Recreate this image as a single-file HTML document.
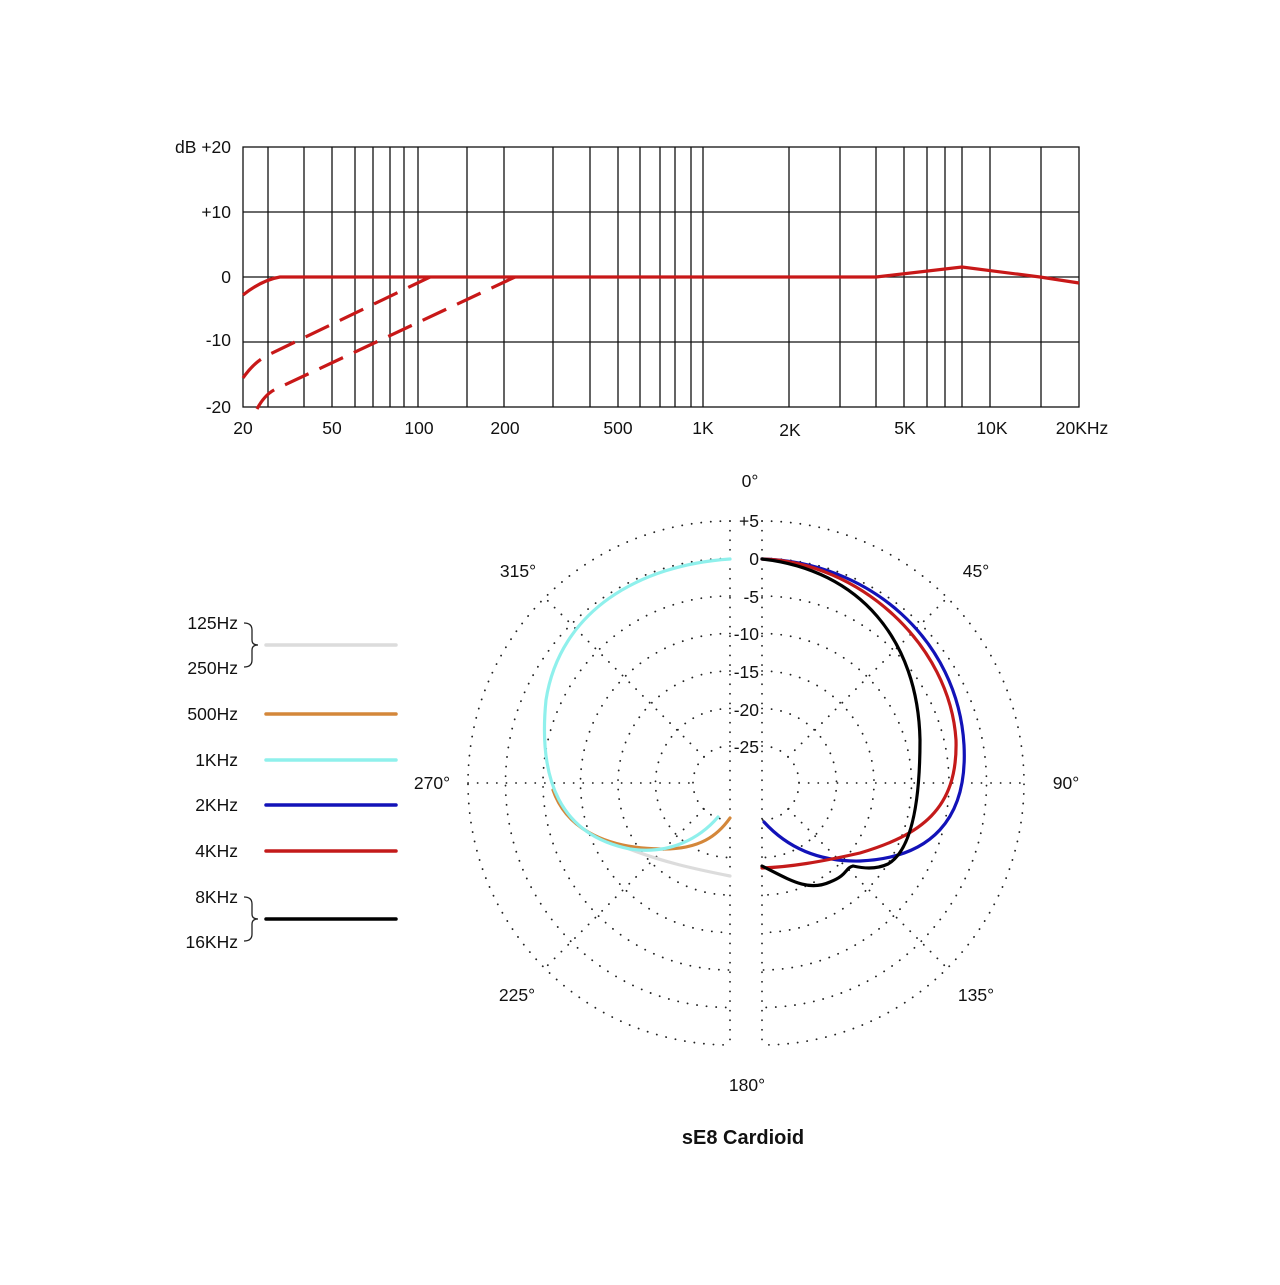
<!DOCTYPE html>
<html><head><meta charset="utf-8"><style>
body{margin:0;background:#fff}
svg text{font-family:"Liberation Sans",sans-serif;fill:#111}
</style></head><body>
<svg width="1280" height="1280" viewBox="0 0 1280 1280" xmlns="http://www.w3.org/2000/svg">
<g stroke="#111" stroke-width="1.3" fill="none">
<rect x="243" y="147" width="836" height="260"/>
<path d="M243 212H1079M243 277H1079M243 342H1079"/>
<path d="M268 147V407M304 147V407M332 147V407M355 147V407M373 147V407M390 147V407M404 147V407M418 147V407M467 147V407M504 147V407M553 147V407M590 147V407M618 147V407M640 147V407M660 147V407M675 147V407M691 147V407M703 147V407M789 147V407M840 147V407M876 147V407M904 147V407M927 147V407M945 147V407M962 147V407M990 147V407M1041 147V407"/>
</g>
<g stroke="#c81818" stroke-width="3.2" fill="none">
<path d="M243 295 Q262 280 280 277 L876 277 L962 267 L1040 277 L1079 283"/>
<path d="M243 378 Q254 362 268 355 L430 277" stroke-dasharray="26 12"/>
<path d="M257 409 Q265 394 276 389 L515 277" stroke-dasharray="26 12"/>
</g>
<g font-size="17.5" text-anchor="end">
<text x="231" y="153">dB  +20</text><text x="231" y="218">+10</text><text x="231" y="283">0</text><text x="231" y="346">-10</text><text x="231" y="413">-20</text>
</g>
<g font-size="17.5" text-anchor="middle">
<text x="243" y="434">20</text><text x="332" y="434">50</text><text x="419" y="434">100</text><text x="505" y="434">200</text><text x="618" y="434">500</text><text x="703" y="434">1K</text><text x="790" y="436">2K</text><text x="905" y="434">5K</text><text x="992" y="434">10K</text><text x="1082" y="434">20KHz</text>
</g>
<!-- polar -->
<g stroke="#222" stroke-width="1.8" fill="none" stroke-dasharray="0.1 9.5" stroke-linecap="round">
<path d="M730 521 A262 262 0 0 0 730 1045 M730 558.5 A224.5 224.5 0 0 0 730 1007.5 M730 596 A187 187 0 0 0 730 970 M730 633.5 A149.5 149.5 0 0 0 730 932.5 M730 671 A112 112 0 0 0 730 895 M730 708.5 A74.5 74.5 0 0 0 730 857.5 M730 746 A37 37 0 0 0 730 820"/>
<path d="M762 521 A262 262 0 0 1 762 1045 M762 558.5 A224.5 224.5 0 0 1 762 1007.5 M762 596 A187 187 0 0 1 762 970 M762 633.5 A149.5 149.5 0 0 1 762 932.5 M762 671 A112 112 0 0 1 762 895 M762 708.5 A74.5 74.5 0 0 1 762 857.5 M762 746 A37 37 0 0 1 762 820"/>
<path d="M730 521V1045M762 521V1045M468 783H693M799 783H1024"/>
<path d="M704 757L545 598M704 809L545 968M788 757L947 598M788 809L947 968"/>
</g>
<g font-size="17.5" text-anchor="middle">
<text x="750" y="487">0°</text><text x="976" y="577">45°</text><text x="1066" y="789">90°</text><text x="976" y="1001">135°</text><text x="747" y="1091">180°</text><text x="517" y="1001">225°</text><text x="432" y="789">270°</text><text x="518" y="577">315°</text>
</g>
<g font-size="17.5" text-anchor="end">
<text x="759" y="527">+5</text><text x="759" y="565">0</text><text x="759" y="603">-5</text><text x="759" y="640">-10</text><text x="759" y="678">-15</text><text x="759" y="716">-20</text><text x="759" y="753">-25</text>
</g>
<g fill="none" stroke-width="3.2" stroke-linecap="round">
<path d="M622 846 C660 862 700 870 730 876" stroke="#dcdcdc"/>
<path d="M553 790 C565 825 600 848 660 849 C700 850 718 835 730 818" stroke="#d4873a"/>
<path d="M730 559 C640 565 560 610 546 700 C538 780 560 835 630 849 C670 855 700 838 718 817" stroke="#8ff0ec"/>
<path d="M762 559 C870 562 958 640 964 745 C968 820 930 858 860 861 C815 862 785 845 764 822" stroke="#1212b8"/>
<path d="M762 559 C860 562 950 645 956 740 C958 810 920 835 860 853 C820 862 790 867 762 868" stroke="#c41a1a"/>
<path d="M762 559 C860 570 918 640 920 740 C920 800 912 850 888 864 C875 870 862 868 853 866 C845 868 848 875 830 882 C808 892 790 880 762 866" stroke="#000"/>
</g>
<text x="743" y="1144" font-size="20" font-weight="bold" text-anchor="middle">sE8  Cardioid</text>
<!-- legend -->
<g font-size="17.5" text-anchor="end">
<text x="238" y="629">125Hz</text><text x="238" y="674">250Hz</text><text x="238" y="720">500Hz</text><text x="238" y="766">1KHz</text><text x="238" y="811">2KHz</text><text x="238" y="857">4KHz</text><text x="238" y="903">8KHz</text><text x="238" y="948">16KHz</text>
</g>
<g fill="none" stroke="#222" stroke-width="1.3">
<path d="M244 623 Q252 623 252 630 L252 640 Q252 645 258 645 Q252 645 252 650 L252 660 Q252 667 244 667"/>
<path d="M244 897 Q252 897 252 904 L252 914 Q252 919 258 919 Q252 919 252 924 L252 934 Q252 941 244 941"/>
</g>
<g stroke-width="3.5" stroke-linecap="round">
<path d="M266 645H396" stroke="#dcdcdc"/><path d="M266 714H396" stroke="#d4873a"/><path d="M266 760H396" stroke="#8ff0ec"/><path d="M266 805H396" stroke="#1212b8"/><path d="M266 851H396" stroke="#c41a1a"/><path d="M266 919H396" stroke="#000"/>
</g>
</svg>
</body></html>
